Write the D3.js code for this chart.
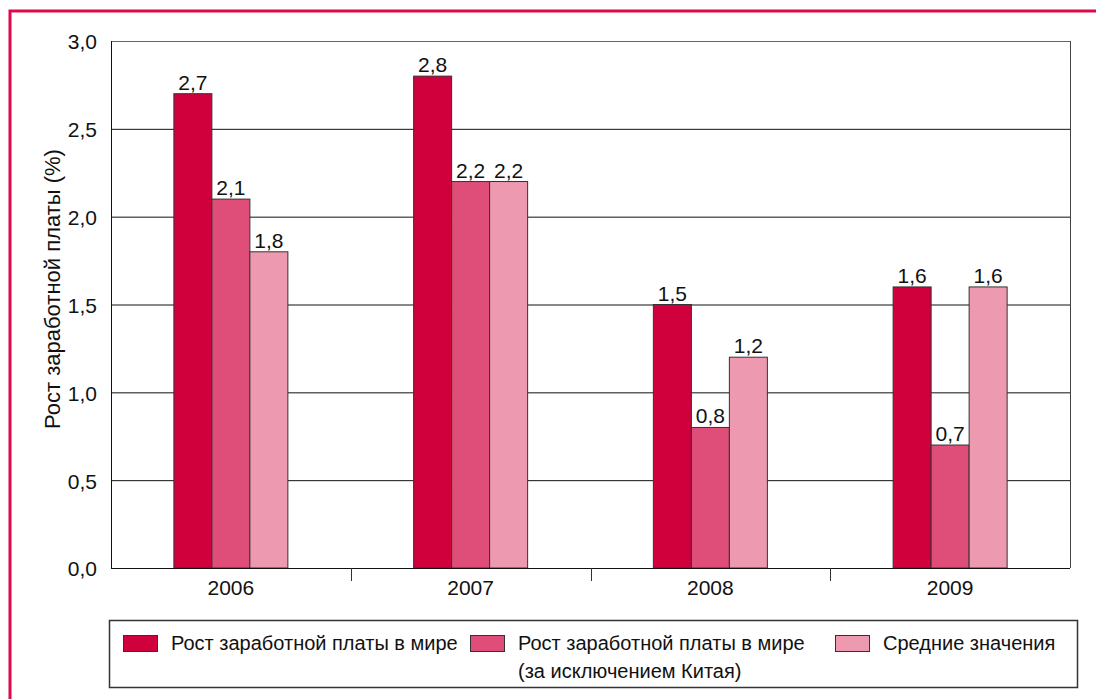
<!DOCTYPE html>
<html>
<head>
<meta charset="utf-8">
<script src="https://cdn.jsdelivr.net/npm/d3@7"></script>
<style>
  body { margin: 0; background: #fff; }
  svg text { font-family: "Liberation Sans", Arial, sans-serif; fill: #111; }
</style>
</head>
<body>
<div id="chart"></div>
<script>
const width = 1096;
const height = 699;

const years = ["2006", "2007", "2008", "2009"];
const seriesNames = [
  ["Рост заработной платы в мире"],
  ["Рост заработной платы в мире", "(за исключением Китая)"],
  ["Средние значения"]
];
const worldGrowth = [2.7, 2.8, 1.5, 1.6];
const worldExChina = [2.1, 2.2, 0.8, 0.7];
const averages = [1.8, 2.2, 1.2, 1.6];
const yTicks = [0, 0.5, 1.0, 1.5, 2.0, 2.5, 3.0];
const colors = ["#d0003c", "#df4e78", "#ed9ab0"];

const series = [worldGrowth, worldExChina, averages];

const plot = {left: 111, top: 41, right: 1070, bottom: 568};

const svg = d3.select("#chart")
  .append("svg")
  .attr("width", width)
  .attr("height", height);

// red frame (top + left only)
svg.append("path")
  .attr("d", `M10,${height} L10,11 L${width},11`)
  .attr("fill", "none")
  .attr("stroke", "#dc0a48")
  .attr("stroke-width", 3);

const x = d3.scaleBand()
  .domain(years)
  .range([plot.left, plot.right]);

const y = d3.scaleLinear()
  .domain([0, 3])
  .range([plot.bottom, plot.top]);

const fmt = v => d3.format(".1f")(v).replace(".", ",");

// gridlines
svg.append("g")
  .selectAll("line")
  .data(yTicks.filter(d => d > 0))
  .join("line")
  .attr("x1", plot.left)
  .attr("x2", plot.right)
  .attr("y1", d => y(d) + 0.5)
  .attr("y2", d => y(d) + 0.5)
  .attr("stroke", d => d === 3 ? "#666" : "#111")
  .attr("stroke-width", 1);

// right border of plot
svg.append("line")
  .attr("x1", plot.right + 0.5).attr("x2", plot.right + 0.5)
  .attr("y1", plot.top).attr("y2", plot.bottom)
  .attr("stroke", "#444");

// y tick labels
svg.append("g")
  .selectAll("text")
  .data(yTicks)
  .join("text")
  .attr("x", 97)
  .attr("y", d => y(d) + 1)
  .attr("dy", "0.35em")
  .attr("text-anchor", "end")
  .attr("font-size", 21)
  .text(fmt);

// y axis title
svg.append("text")
  .attr("transform", `translate(60,289) rotate(-90)`)
  .attr("text-anchor", "middle")
  .attr("font-size", 22)
  .text("Рост заработной платы (%)");

// bars
const barW = 38;
const groups = svg.append("g")
  .selectAll("g")
  .data(years)
  .join("g");

groups.each(function(year, i) {
  const cx = x(year) + x.bandwidth() / 2;
  const g = d3.select(this);
  series.forEach((s, j) => {
    const bx = cx - 1.5 * barW + j * barW;
    g.append("rect")
      .attr("x", bx)
      .attr("y", y(s[i]))
      .attr("width", barW)
      .attr("height", y(0) - y(s[i]))
      .attr("fill", colors[j])
      .attr("stroke", "#333")
      .attr("stroke-width", 1);
    g.append("text")
      .attr("x", bx + barW / 2)
      .attr("y", y(s[i]) - 4)
      .attr("text-anchor", "middle")
      .attr("font-size", 21)
      .text(fmt(s[i]));
  });
});

// x axis
svg.append("line")
  .attr("x1", plot.left).attr("x2", plot.right)
  .attr("y1", plot.bottom + 0.5).attr("y2", plot.bottom + 0.5)
  .attr("stroke", "#111");
svg.append("line")
  .attr("x1", plot.left + 0.5).attr("x2", plot.left + 0.5)
  .attr("y1", plot.top).attr("y2", plot.bottom)
  .attr("stroke", "#111");

svg.append("g")
  .selectAll("line")
  .data(years.slice(1))
  .join("line")
  .attr("x1", d => Math.round(x(d)) + 0.5)
  .attr("x2", d => Math.round(x(d)) + 0.5)
  .attr("y1", plot.bottom)
  .attr("y2", plot.bottom + 13)
  .attr("stroke", "#333");

svg.append("g")
  .selectAll("text")
  .data(years)
  .join("text")
  .attr("x", d => x(d) + x.bandwidth() / 2)
  .attr("y", 595)
  .attr("text-anchor", "middle")
  .attr("font-size", 21)
  .text(d => d);

// legend
svg.append("rect")
  .attr("x", 109.5).attr("y", 620.5)
  .attr("width", 968).attr("height", 67)
  .attr("fill", "none")
  .attr("stroke", "#333")
  .attr("stroke-width", 1.5);

const legendX = [123, 470, 835];
seriesNames.forEach((lines, j) => {
  svg.append("rect")
    .attr("x", legendX[j] + 0.5).attr("y", 635.5)
    .attr("width", 34).attr("height", 16)
    .attr("fill", colors[j])
    .attr("stroke", "#333");
  const t = svg.append("text")
    .attr("x", legendX[j] + 48)
    .attr("y", 650)
    .attr("font-size", 20);
  lines.forEach((ln, k) => {
    t.append("tspan")
      .attr("x", legendX[j] + 48)
      .attr("dy", k === 0 ? 0 : 28)
      .text(ln);
  });
});
</script>
</body>
</html>
